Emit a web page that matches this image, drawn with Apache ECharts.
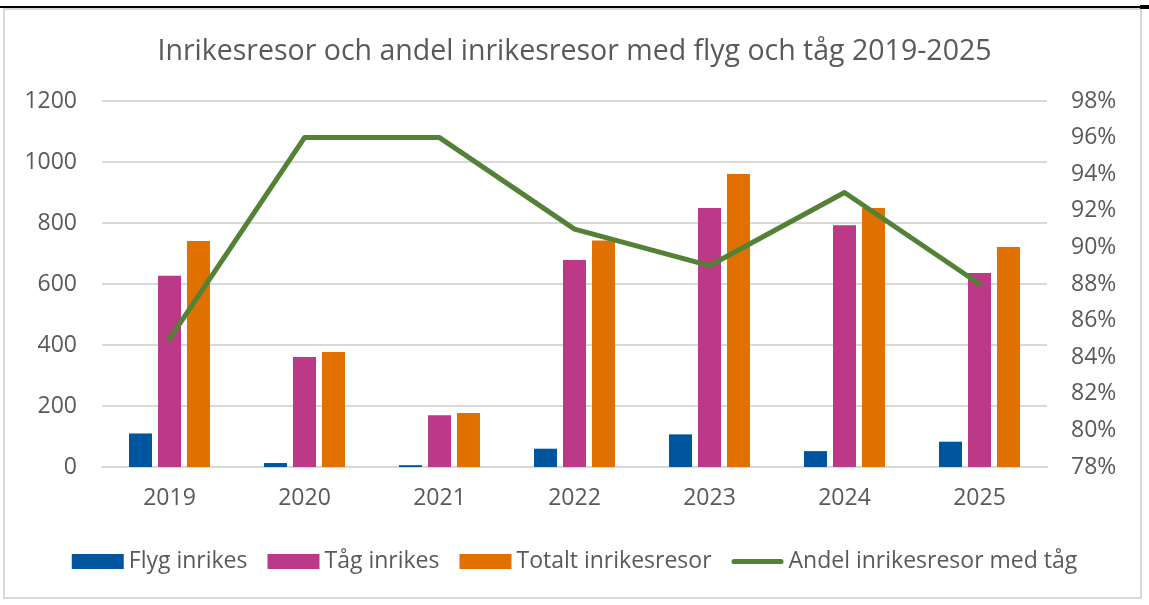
<!DOCTYPE html>
<html>
<head>
<meta charset="utf-8">
<title>Inrikesresor</title>
<script src="https://cdn.jsdelivr.net/npm/echarts@6/dist/echarts.min.js"></script>
<style>
  html, body { margin: 0; padding: 0; background: #fff; }
  #chart { width: 1149px; height: 605px; }
</style>
</head>
<body>
<div id="chart"></div>
<script>
// data
const years = ['2019', '2020', '2021', '2022', '2023', '2024', '2025']
const flygInrikes = [110, 13, 6, 60, 107, 52, 83]
const tagInrikes = [627, 361, 170, 679, 849, 793, 636]
const totaltInrikes = [741, 377, 177, 743, 961, 849, 721]
const andelTag = [85, 96, 96, 91, 89, 93, 88]

const textColor = '#595959'
const fontFamily = '"Open Sans", sans-serif'
const labelSize = 23

let option = {
    animation: false,
    textStyle: { fontFamily: fontFamily },
    title: {
        text: 'Inrikesresor och andel inrikesresor med flyg och tåg 2019-2025',
        left: 'center',
        top: 32,
        textStyle: { fontSize: 28.5, fontWeight: 'normal', color: textColor, fontFamily: fontFamily }
    },
    graphic: [
        { type: 'rect', shape: { x: 4, y: 9, width: 1137, height: 589 }, style: { fill: 'none', stroke: '#d9d9d9', lineWidth: 2 } },
        { type: 'rect', shape: { x: 0, y: 6, width: 1149, height: 2 }, style: { fill: '#000' } },
        { type: 'rect', shape: { x: 1140, y: 5, width: 9, height: 4 }, style: { fill: '#000' } }
    ],
    legend: {
        top: 545,
        left: 'center',
        itemWidth: 52,
        itemHeight: 15,
        itemGap: 20,
        itemStyle: { borderWidth: 0 },
        textStyle: { fontSize: labelSize, color: textColor, fontFamily: fontFamily },
        data: [
            { name: 'Flyg inrikes', icon: 'rect' },
            { name: 'Tåg inrikes', icon: 'rect' },
            { name: 'Totalt inrikesresor', icon: 'rect' },
            { name: 'Andel inrikesresor med tåg', icon: 'path://M2.5,0 L47.5,0 A2.5,2.5 0 0 1 47.5,5 L2.5,5 A2.5,2.5 0 0 1 2.5,0 Z' }
        ]
    },
    grid: { left: 102, right: 102, top: 101, bottom: 138 },
    xAxis: {
        type: 'category',
        data: years,
        axisLine: { lineStyle: { color: '#d9d9d9', width: 2 } },
        axisTick: { show: false },
        axisLabel: { fontSize: labelSize, color: textColor, margin: 20 }
    },
    yAxis: [
        {
            type: 'value',
            min: 0,
            max: 1200,
            interval: 200,
            axisLine: { show: false },
            axisTick: { show: false },
            axisLabel: { fontSize: labelSize, color: textColor, margin: 25, formatter: v => String(v) },
            splitLine: { lineStyle: { color: '#d9d9d9', width: 2 } }
        },
        {
            type: 'value',
            min: 78,
            max: 98,
            interval: 2,
            axisLine: { show: false },
            axisTick: { show: false },
            axisLabel: { fontSize: labelSize, color: textColor, margin: 24, formatter: '{value}%' },
            splitLine: { show: false }
        }
    ],
    series: [
        {
            name: 'Flyg inrikes',
            type: 'bar',
            data: flygInrikes,
            barWidth: 23,
            barGap: '26%',
            itemStyle: { color: '#00569e' }
        },
        {
            name: 'Tåg inrikes',
            type: 'bar',
            data: tagInrikes,
            barWidth: 23,
            barGap: '26%',
            itemStyle: { color: '#bb3986' }
        },
        {
            name: 'Totalt inrikesresor',
            type: 'bar',
            data: totaltInrikes,
            barWidth: 23,
            barGap: '26%',
            itemStyle: { color: '#e07000' }
        },
        {
            name: 'Andel inrikesresor med tåg',
            type: 'line',
            yAxisIndex: 1,
            data: andelTag,
            symbol: 'none',
            lineStyle: { color: '#538135', width: 5, cap: 'round', join: 'round' },
            itemStyle: { color: '#538135' },
            z: 5
        }
    ]
}

let mychart = echarts.init(document.getElementById('chart'))
mychart.setOption(option)
</script>
</body>
</html>
